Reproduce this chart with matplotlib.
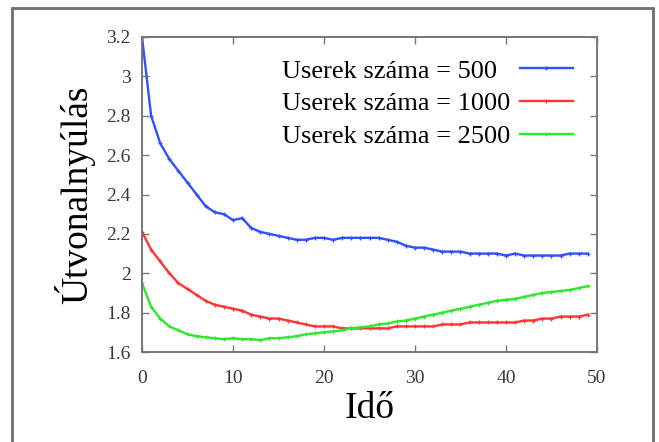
import matplotlib
matplotlib.use("Agg")
import matplotlib.pyplot as plt
from matplotlib.patches import Rectangle
from matplotlib.lines import Line2D

# time steps and path stretch for three user counts
ido = list(range(50))

stretch_500 = [3.20, 2.80, 2.66, 2.58, 2.52, 2.46, 2.40, 2.34, 2.31, 2.30,
               2.27, 2.28, 2.23, 2.21, 2.20, 2.19, 2.18, 2.17, 2.17, 2.18,
               2.18, 2.17, 2.18, 2.18, 2.18, 2.18, 2.18, 2.17, 2.16, 2.14,
               2.13, 2.13, 2.12, 2.11, 2.11, 2.11, 2.10, 2.10, 2.10, 2.10,
               2.09, 2.10, 2.09, 2.09, 2.09, 2.09, 2.09, 2.10, 2.10, 2.10]

stretch_1000 = [2.21, 2.12, 2.06, 2.00, 1.95, 1.92, 1.89, 1.86, 1.84, 1.83,
                1.82, 1.81, 1.79, 1.78, 1.77, 1.77, 1.76, 1.75, 1.74, 1.73,
                1.73, 1.73, 1.72, 1.72, 1.72, 1.72, 1.72, 1.72, 1.73, 1.73,
                1.73, 1.73, 1.73, 1.74, 1.74, 1.74, 1.75, 1.75, 1.75, 1.75,
                1.75, 1.75, 1.76, 1.76, 1.77, 1.77, 1.78, 1.78, 1.78, 1.79]

stretch_2500 = [1.95, 1.83, 1.77, 1.73, 1.71, 1.69, 1.68, 1.675, 1.67, 1.665,
                1.67, 1.665, 1.665, 1.66, 1.67, 1.67, 1.675, 1.68, 1.69, 1.695,
                1.70, 1.705, 1.71, 1.72, 1.725, 1.73, 1.74, 1.745, 1.755, 1.76,
                1.77, 1.78, 1.79, 1.80, 1.81, 1.82, 1.83, 1.84, 1.85, 1.86,
                1.865, 1.87, 1.88, 1.89, 1.90, 1.905, 1.91, 1.915, 1.925, 1.935]

labels = ["Userek száma = 500", "Userek száma = 1000", "Userek száma = 2500"]
colors = ["#2f50ff", "#ff3434", "#2ee82e"]
values = [stretch_500, stretch_1000, stretch_2500]

plt.rcParams['font.family'] = ['Liberation Serif', 'DejaVu Serif']

fig = plt.figure(figsize=(6.59, 4.42), dpi=100)
ax = fig.add_axes([0.2155, 0.2036, 0.6904, 0.7127])

# outer frame around the whole figure (bottom edge runs off the image)
fig.patches.append(Rectangle((12 / 659, -0.05), 641 / 659, 1 - 8 / 442 + 0.05,
                             transform=fig.transFigure, fill=False,
                             edgecolor="#6e6e6e", linewidth=2))

lines = []
for label, vals, color in zip(labels, values, colors):
    ln, = ax.plot(ido, vals, color=color, linewidth=1.7, marker="+",
                  markersize=3, markeredgewidth=0.9, label=label)
    lines.append(ln)

ax.set_xlim(0, 50)
ax.set_ylim(1.6, 3.2)
ax.set_xticks([0, 10, 20, 30, 40, 50])
ax.set_yticks([1.6, 1.8, 2.0, 2.2, 2.4, 2.6, 2.8, 3.0, 3.2])
ax.set_yticklabels(["1.6", "1.8", "2", "2.2", "2.4", "2.6", "2.8", "3", "3.2"])

ax.tick_params(direction="in", length=5, width=1, color="#777777",
               top=True, right=True, labelsize=14, labelcolor="#3a3a3a")
ax.tick_params(axis="x", pad=13)
ax.tick_params(axis="y", pad=8)
for sp in ax.spines.values():
    sp.set_color("#777777")
    sp.set_linewidth(1.4)

ax.set_xlabel("Idő", fontsize=27, labelpad=3.5)
ax.set_ylabel("Útvonalnyúlás", fontsize=27, labelpad=8)

# key: labels left-aligned in one column, sample lines lined up in the next
blank = Line2D([], [], linestyle="none")
ax.legend(handles=[blank] * 3 + lines, labels=labels + [""] * 3, ncols=2,
          loc="upper right", bbox_to_anchor=(0.947, 0.93), frameon=False,
          fontsize=19, handlelength=2.0, handletextpad=0.0,
          columnspacing=0.38, labelspacing=0.36, borderpad=0,
          borderaxespad=0, numpoints=1)

fig.savefig("out.png", dpi=100)
